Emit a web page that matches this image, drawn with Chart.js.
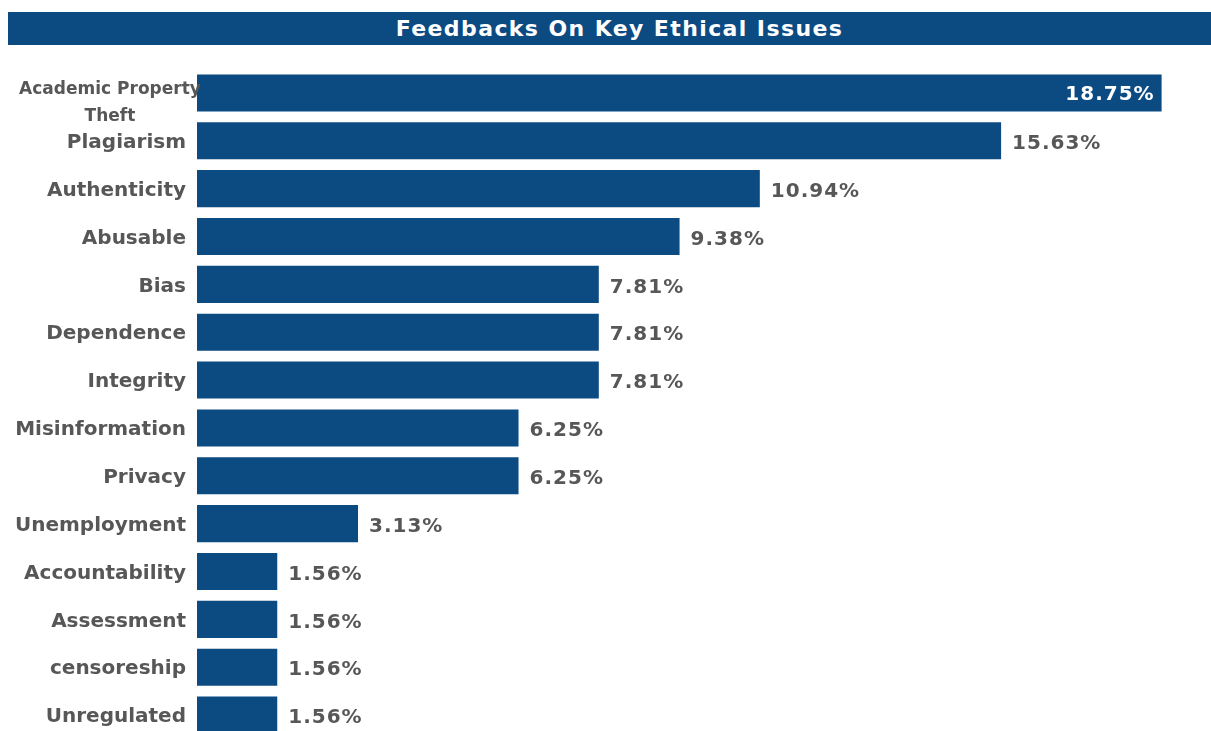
<!DOCTYPE html>
<html>
<head>
<meta charset="utf-8">
<title>Feedbacks On Key Ethical Issues</title>
<script src="https://cdn.jsdelivr.net/npm/chart.js@4.4.1/dist/chart.umd.min.js"></script>
<style>
    html, body {
        margin: 0;
        padding: 0;
        background: #ffffff;
        overflow: hidden;
    }
    .title-bar {
        position: absolute;
        left: 8px;
        top: 12px;
        width: 1223px;
        height: 33px;
        background: #0c4a82;
        color: #ffffff;
        font: bold 22px "DejaVu Sans", Verdana, sans-serif;
        letter-spacing: 1.4px;
        line-height: 33px;
        text-align: center;
    }
    .chart-box {
        position: absolute;
        left: 0;
        top: 0;
        width: 1211px;
        height: 745px;
    }
</style>
</head>
<body>
<div class="title-bar">Feedbacks On Key Ethical Issues</div>
<div class="chart-box"><canvas id="issuesChart"></canvas></div>

<script>
const categories = [
    'Academic Property Theft', 'Plagiarism', 'Authenticity', 'Abusable', 'Bias',
    'Dependence', 'Integrity', 'Misinformation', 'Privacy', 'Unemployment',
    'Accountability', 'Assessment', 'censoreship', 'Unregulated'
];
const shares = [18.75, 15.63, 10.94, 9.38, 7.81, 7.81, 7.81, 6.25, 6.25, 3.13, 1.56, 1.56, 1.56, 1.56];

const barColor = '#0c4a82';
const textColor = '#575757';
const labelFont = 'bold 20px "DejaVu Sans", Verdana, sans-serif';

// category names drawn next to the y axis, long ones wrapped and centred
const categoryLabels = {
    id: 'categoryLabels',
    afterDraw(chart) {
        const ctx = chart.ctx;
        const y = chart.scales.y;
        ctx.save();
        ctx.fillStyle = textColor;
        ctx.textBaseline = 'middle';
        categories.forEach(function (name, i) {
            const py = y.getPixelForTick(i);
            if (name.length > 20) {
                const words = name.split(' ');
                ctx.font = 'bold 17px "DejaVu Sans", Verdana, sans-serif';
                ctx.textAlign = 'center';
                ctx.fillText(words.slice(0, 2).join(' '), 110, py - 3);
                ctx.fillText(words.slice(2).join(' '), 110, py + 24);
            } else {
                ctx.font = labelFont;
                ctx.textAlign = 'right';
                ctx.fillText(name, y.right - 11, py + 2);
            }
        });
        ctx.restore();
    }
};

// percentage at the end of every bar, inside when the bar is long
const valueLabels = {
    id: 'valueLabels',
    afterDatasetsDraw(chart) {
        const ctx = chart.ctx;
        const meta = chart.getDatasetMeta(0);
        ctx.save();
        ctx.font = labelFont;
        ctx.letterSpacing = '1px';
        ctx.textBaseline = 'middle';
        meta.data.forEach(function (bar, i) {
            const text = shares[i].toFixed(2) + '%';
            if (bar.x + 110 > chart.chartArea.right) {
                ctx.fillStyle = '#ffffff';
                ctx.textAlign = 'right';
                ctx.fillText(text, bar.x - 7, bar.y + 2);
            } else {
                ctx.fillStyle = textColor;
                ctx.textAlign = 'left';
                ctx.fillText(text, bar.x + 11, bar.y + 3);
            }
        });
        ctx.restore();
    }
};

function getChart() {
    const ctx = document.getElementById('issuesChart').getContext('2d');

    new Chart(ctx, {
        type: 'bar',
        data: {
            labels: categories,
            datasets: [{
                label: 'Share',
                data: shares,
                backgroundColor: barColor,
                borderWidth: 0,
                categoryPercentage: 1,
                barPercentage: 0.775
            }]
        },
        options: {
            indexAxis: 'y',
            responsive: true,
            maintainAspectRatio: false,
            animation: false,
            layout: {
                padding: { top: 69, bottom: 6, left: 0, right: 0 }
            },
            plugins: {
                legend: { display: false },
                tooltip: { enabled: false }
            },
            scales: {
                x: {
                    display: false,
                    min: 0,
                    max: 19.71
                },
                y: {
                    grid: { display: false, drawBorder: false },
                    border: { display: false },
                    ticks: { display: false },
                    afterFit: function (scale) {
                        scale.width = 197;
                    }
                }
            }
        },
        plugins: [categoryLabels, valueLabels]
    });
}

getChart();
</script>
</body>
</html>
